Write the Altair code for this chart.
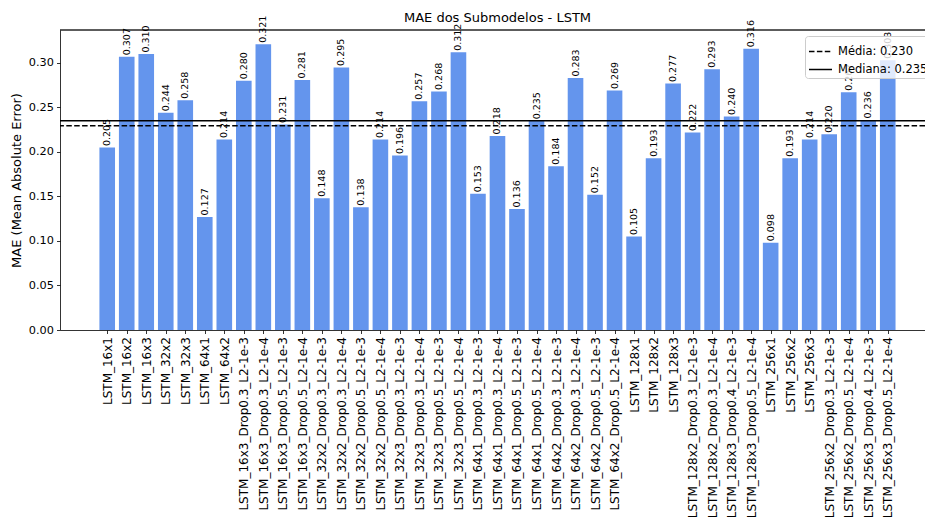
import json

import altair as alt
import numpy as np
import pandas as pd

# Submodel names and their MAE
models = [
    "LSTM_16x1", "LSTM_16x2", "LSTM_16x3", "LSTM_32x2", "LSTM_32x3",
    "LSTM_64x1", "LSTM_64x2",
    "LSTM_16x3_Drop0.3_L2-1e-3", "LSTM_16x3_Drop0.3_L2-1e-4",
    "LSTM_16x3_Drop0.5_L2-1e-3", "LSTM_16x3_Drop0.5_L2-1e-4",
    "LSTM_32x2_Drop0.3_L2-1e-3", "LSTM_32x2_Drop0.3_L2-1e-4",
    "LSTM_32x2_Drop0.5_L2-1e-3", "LSTM_32x2_Drop0.5_L2-1e-4",
    "LSTM_32x3_Drop0.3_L2-1e-3", "LSTM_32x3_Drop0.3_L2-1e-4",
    "LSTM_32x3_Drop0.5_L2-1e-3", "LSTM_32x3_Drop0.5_L2-1e-4",
    "LSTM_64x1_Drop0.3_L2-1e-3", "LSTM_64x1_Drop0.3_L2-1e-4",
    "LSTM_64x1_Drop0.5_L2-1e-3", "LSTM_64x1_Drop0.5_L2-1e-4",
    "LSTM_64x2_Drop0.3_L2-1e-3", "LSTM_64x2_Drop0.3_L2-1e-4",
    "LSTM_64x2_Drop0.5_L2-1e-3", "LSTM_64x2_Drop0.5_L2-1e-4",
    "LSTM_128x1", "LSTM_128x2", "LSTM_128x3",
    "LSTM_128x2_Drop0.3_L2-1e-3", "LSTM_128x2_Drop0.3_L2-1e-4",
    "LSTM_128x3_Drop0.4_L2-1e-3", "LSTM_128x3_Drop0.5_L2-1e-4",
    "LSTM_256x1", "LSTM_256x2", "LSTM_256x3",
    "LSTM_256x2_Drop0.3_L2-1e-3", "LSTM_256x2_Drop0.5_L2-1e-4",
    "LSTM_256x3_Drop0.4_L2-1e-3", "LSTM_256x3_Drop0.5_L2-1e-4",
]
mae = [
    0.205, 0.307, 0.310, 0.244, 0.258,
    0.127, 0.214,
    0.280, 0.321,
    0.231, 0.281,
    0.148, 0.295,
    0.138, 0.214,
    0.196, 0.257,
    0.268, 0.312,
    0.153, 0.218,
    0.136, 0.235,
    0.184, 0.283,
    0.152, 0.269,
    0.105, 0.193, 0.277,
    0.222, 0.293,
    0.240, 0.316,
    0.098, 0.193, 0.214,
    0.220, 0.267,
    0.236, 0.303,
]
y_ticks = [0.0, 0.05, 0.10, 0.15, 0.20, 0.25, 0.30]

FONT = "DejaVu Sans"
BAR_COLOR = "#6495ED"
W, H = 865, 300

df = pd.DataFrame({"modelo": models, "mae": mae, "idx": list(range(len(models)))})

mean_v = float(np.mean(mae))
median_v = float(np.median(mae))
stat_labels = [f"Média: {mean_v:.3f}", f"Mediana: {median_v:.3f}"]
stats = pd.DataFrame({"valor": [mean_v, median_v], "estat": stat_labels})

ymax = max(mae) * 1.05
x_scale = alt.Scale(domain=[-2.42, 41.91], nice=False, zero=False)
y_scale = alt.Scale(domain=[0, ymax], nice=False)

names_js = "[" + ",".join(json.dumps(m) for m in models) + "]"

x_axis = alt.Axis(
    values=list(range(len(models))),
    labelExpr=f"{names_js}[datum.value]",
    labelAngle=-90,
    labelFontSize=12,
    labelLimit=500,
    labelPadding=3,
    labelColor="black",
    labelOverlap=False,
    tickColor="black",
    tickSize=3.5,
    tickWidth=0.8,
    domainColor="black",
    domainWidth=0.8,
    grid=False,
    title=None,
)
y_axis = alt.Axis(
    values=y_ticks,
    format=".2f",
    labelFontSize=11.3,
    labelColor="black",
    labelPadding=3,
    labelOverlap=False,
    tickColor="black",
    tickSize=3.5,
    tickWidth=0.8,
    domainColor="black",
    domainWidth=0.8,
    grid=False,
    title="MAE (Mean Absolute Error)",
    titleFontSize=13,
    titleFontWeight="normal",
    titleColor="black",
    titlePadding=5,
)

base = alt.Chart(df)

bars = base.mark_bar(color=BAR_COLOR).transform_calculate(
    xlo="datum.idx - 0.4", xhi="datum.idx + 0.4"
).encode(
    x=alt.X("xlo:Q", scale=x_scale, axis=x_axis),
    x2="xhi:Q",
    y=alt.Y("mae:Q", scale=y_scale, axis=y_axis),
    y2=alt.datum(0),
)

values_txt = base.mark_text(
    angle=270, align="left", baseline="middle", dx=1.5,
    fontSize=9.5, font=FONT, color="black",
).encode(
    x=alt.X("idx:Q", scale=x_scale, axis=x_axis),
    y=alt.Y("mae:Q", scale=y_scale, axis=y_axis),
    text=alt.Text("mae:Q", format=".3f"),
)

stat_lines = alt.Chart(stats).mark_rule(color="black", strokeWidth=1.5).encode(
    y=alt.Y("valor:Q", scale=y_scale, axis=y_axis),
    strokeDash=alt.StrokeDash(
        "estat:N",
        scale=alt.Scale(domain=stat_labels, range=[[5.5, 2.4], [1, 0]]),
        legend=alt.Legend(
            title=None,
            orient="none",
            legendX=745,
            legendY=6,
            symbolType="stroke",
            symbolStrokeColor="black",
            symbolStrokeWidth=1.5,
            symbolSize=530,
            labelFontSize=11.5,
            labelColor="black",
            labelOffset=5,
            labelLimit=300,
            rowPadding=-4,
            padding=3,
            fillColor="rgba(255,255,255,0.8)",
            strokeColor="#cccccc",
            cornerRadius=3,
        ),
    ),
)

top_spine = alt.Chart(stats).mark_rule(color="black", strokeWidth=0.8).encode(
    x=alt.value(0), x2=alt.value(W), y=alt.value(0)
)

chart = (
    alt.layer(bars, values_txt, top_spine, stat_lines)
    .properties(
        width=W,
        height=H,
        title=alt.TitleParams(
            "MAE dos Submodelos - LSTM",
            fontSize=13,
            fontWeight="normal",
            color="black",
            frame="group",
            offset=5,
            dx=5,
            dy=14,
        ),
        autosize=alt.AutoSizeParams(type="none"),
        padding={"left": 60, "top": 30, "right": 0, "bottom": 198},
    )
    .configure(font=FONT)
    .configure_view(stroke="transparent")
)

chart.save("out.html", embed_options={"renderer": "svg", "actions": False})
